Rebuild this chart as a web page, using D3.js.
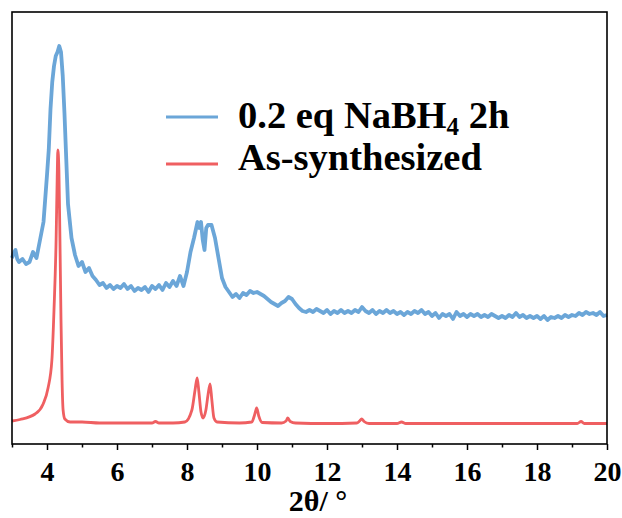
<!DOCTYPE html>
<html>
<head>
<meta charset="utf-8">
<script src="https://cdn.jsdelivr.net/npm/d3@7"></script>
<style>
  body { margin: 0; background: #fff; }
  text { font-family: "Liberation Serif", "Times New Roman", serif; font-weight: bold; fill: #000; }
</style>
</head>
<body>
<svg></svg>
<script>
// XRD patterns, intensity in a.u.
let blueData = [
  [3.0,186],[3.05,191],[3.1,194],[3.15,185],[3.2,182],[3.3,185],[3.4,180],[3.5,182],[3.6,192],[3.7,186],[3.8,204],[3.9,222],
  [4.0,269],[4.05,294],[4.1,335],[4.15,362],[4.2,378],[4.25,388],[4.3,392],[4.35,398],[4.4,392],[4.45,368],
  [4.5,330],[4.55,285],[4.6,240],[4.7,206],[4.8,189],[4.9,178],[5.0,182],[5.1,172],[5.2,176],[5.3,168],
  [5.4,164],[5.5,159],[5.6,161],[5.7,156],[5.8,159],[5.9,155],[6.0,158],[6.1,156],[6.2,160],[6.3,155],
  [6.4,158],[6.5,153],[6.6,156],[6.7,154],[6.8,157],[6.9,152],[7.0,158],[7.1,155],[7.2,159],[7.3,154],
  [7.4,161],[7.5,157],[7.6,163],[7.7,158],[7.8,168],[7.9,158],[8.0,172],[8.1,192],[8.2,206],[8.3,222],
  [8.35,216],[8.4,222],[8.45,204],[8.5,194],[8.55,216],[8.6,219],[8.7,219],[8.8,206],[8.9,186],[9.0,166],
  [9.1,157],[9.2,152],[9.3,147],[9.4,150],[9.5,146],[9.6,151],[9.7,149],[9.8,153],[9.9,151],[10.0,152],
  [10.1,150],[10.2,148],[10.3,145],[10.4,142],[10.5,140],[10.6,138],[10.7,141],[10.8,143],[10.9,147],[11.0,145],
  [11.1,140],[11.2,136],[11.3,133],[11.4,132],[11.5,134],[11.6,132],[11.7,135],[11.8,133],[11.9,131],[12.0,134],
  [12.1,130],[12.2,133],[12.3,131],[12.4,134],[12.5,131],[12.6,133],[12.7,131],[12.8,134],[12.9,132],[13.0,137],
  [13.1,133],[13.2,131],[13.3,134],[13.4,130],[13.5,133],[13.6,131],[13.7,134],[13.8,131],[13.9,133],[14.0,130],
  [14.1,132],[14.2,129],[14.3,132],[14.4,130],[14.5,133],[14.6,131],[14.7,134],[14.8,130],[14.9,132],[15.0,128],
  [15.1,131],[15.2,126],[15.3,130],[15.4,128],[15.5,130],[15.6,125],[15.7,132],[15.8,128],[15.9,130],[16.0,127],
  [16.1,130],[16.2,128],[16.3,130],[16.4,127],[16.5,129],[16.6,127],[16.7,130],[16.8,128],[16.9,126],[17.0,128],
  [17.1,126],[17.2,129],[17.3,127],[17.4,131],[17.5,127],[17.6,129],[17.7,126],[17.8,128],[17.9,126],[18.0,128],
  [18.1,125],[18.2,128],[18.3,124],[18.4,127],[18.5,126],[18.6,128],[18.7,126],[18.8,129],[18.9,127],[19.0,129],
  [19.1,128],[19.2,131],[19.3,129],[19.4,132],[19.5,130],[19.6,131],[19.7,129],[19.8,132],[19.9,128],[20.0,129]
]

let redData = [
  [3.0,23],[3.23,24.5],[3.66,30],[3.89,40],[4.03,56],[4.14,84],[4.2,134],[4.26,204],[4.29,264],[4.31,294],
  [4.34,274],[4.37,204],[4.4,124],[4.43,64],[4.46,34],[4.51,25],[4.66,22],[5.0,22],[5.5,21],[6.0,21],
  [6.5,21],[7.0,21],[7.1,22.5],[7.2,21],[7.6,21],[7.94,22],[8.14,34],[8.23,54],[8.29,66],[8.34,52],
  [8.4,32],[8.46,26],[8.54,34],[8.6,49],[8.66,60],[8.71,44],[8.77,26],[8.86,22],[9.5,21],[9.85,22],
  [9.93,29],[9.99,36],[10.05,28],[10.15,21.5],[10.7,21],[10.83,23],[10.88,26],[10.95,22.5],[11.1,21],[12.0,20.5],
  [12.85,21],[12.93,23],[12.99,25],[13.06,22.5],[13.2,20.5],[14.0,20.5],[14.13,22],[14.25,20.5],[15.0,20.5],[16.0,20.5],
  [17.0,20.5],[18.0,20.5],[19.15,20.5],[19.26,22.5],[19.35,20.5],[20.0,20.5]
]

let majorTicks = [4, 6, 8, 10, 12, 14, 16, 18, 20]
let minorTicks = [3, 5, 7, 9, 11, 13, 15, 17, 19]
let seriesNames = ["0.2 eq NaBH", "As-synthesized"]
let seriesColors = ["#6ba6d8", "#ef5f61"]
let serif = "'Liberation Serif', 'Times New Roman', serif"

let width = 622
let height = 518
let plotLeft = 12, plotTop = 12, plotRight = 607, plotBottom = 444

let svg = d3.select("svg").attr("width", width).attr("height", height)

let xScale = d3.scaleLinear().domain([3, 20]).range([plotLeft, plotRight])
let yScale = d3.scaleLinear().domain([0, 432]).range([plotBottom, plotTop])

// curves
let line = d3.line().x(d => xScale(d[0])).y(d => yScale(d[1]))

svg.append("path")
   .datum(redData)
   .attr("fill", "none")
   .attr("stroke", seriesColors[1])
   .attr("stroke-width", 2.8)
   .attr("stroke-linejoin", "round")
   .attr("d", line.curve(d3.curveMonotoneX))

svg.append("path")
   .datum(blueData)
   .attr("fill", "none")
   .attr("stroke", seriesColors[0])
   .attr("stroke-width", 3.8)
   .attr("stroke-linejoin", "round")
   .attr("d", line.curve(d3.curveLinear))

// frame
svg.append("rect")
   .attr("x", plotLeft).attr("y", plotTop)
   .attr("width", plotRight - plotLeft).attr("height", plotBottom - plotTop)
   .attr("fill", "none").attr("stroke", "#000").attr("stroke-width", 1.6)

// bottom axis
let xAxis = d3.axisBottom(xScale).tickValues(majorTicks).tickSize(6).tickFormat(d3.format("d"))
let gx = svg.append("g").attr("transform", "translate(0," + plotBottom + ")").call(xAxis)
   .attr("font-family", serif).attr("font-size", 28)
gx.select(".domain").remove()
gx.selectAll("line").attr("stroke", "#000").attr("stroke-width", 1.5)
gx.selectAll("text")
  .attr("y", 37).attr("dy", null)
  .style("font-family", serif)
  .style("font-size", "28px")
  .style("font-weight", "bold")
  .attr("fill", "#000")

let xMinor = d3.axisBottom(xScale).tickValues(minorTicks).tickSize(3.5).tickFormat("")
let gm = svg.append("g").attr("transform", "translate(0," + plotBottom + ")").call(xMinor)
gm.select(".domain").remove()
gm.selectAll("line").attr("stroke", "#000").attr("stroke-width", 1.5)

svg.append("text")
   .attr("x", 318).attr("y", 511)
   .attr("text-anchor", "middle")
   .style("font-size", "30px")
   .text("2θ/ °")

// legend
svg.append("line")
   .attr("x1", 166).attr("x2", 218).attr("y1", 117).attr("y2", 117)
   .attr("stroke", seriesColors[0]).attr("stroke-width", 3)
let t1 = svg.append("text").attr("x", 238).attr("y", 128).style("font-size", "38.5px")
t1.append("tspan").text(seriesNames[0])
t1.append("tspan").attr("dy", 7).style("font-size", "25px").text("4")
t1.append("tspan").attr("dy", -7).text(" 2h")

svg.append("line")
   .attr("x1", 166).attr("x2", 218).attr("y1", 164).attr("y2", 164)
   .attr("stroke", seriesColors[1]).attr("stroke-width", 3)
svg.append("text").attr("x", 238).attr("y", 170).style("font-size", "38.5px").text(seriesNames[1])
</script>
</body>
</html>
